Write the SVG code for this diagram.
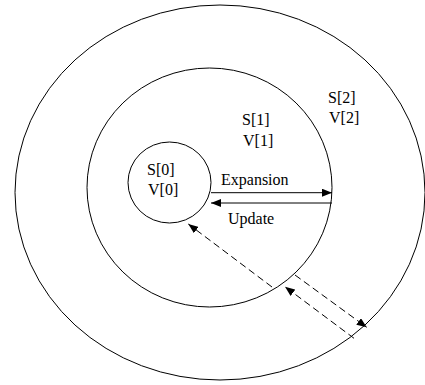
<svg xmlns="http://www.w3.org/2000/svg" width="425" height="385" viewBox="0 0 425 385">
<style>
.ring{fill:none;stroke:#000;stroke-width:1}
.t{font-family:"Liberation Serif","Times New Roman",serif;font-size:16px;fill:#000}
.solid{fill:none;stroke:#000;stroke-width:1}
.dash{fill:none;stroke:#000;stroke-width:1;stroke-dasharray:7 4}
</style>
<defs>
<marker id="ah" viewBox="0 0 10 8" refX="10" refY="4" markerWidth="10" markerHeight="8" markerUnits="userSpaceOnUse" orient="auto">
<path d="M0,0 L10,4 L0,8 Z" fill="#000"/>
</marker>
</defs>
<rect width="425" height="385" fill="#fff"/>
<g id="ring2">
<ellipse class="ring" cx="220" cy="192.5" rx="205" ry="187.5"/>
<text class="t" x="328" y="103">S[2]</text>
<text class="t" x="329" y="123">V[2]</text>
</g>
<g id="ring1">
<ellipse class="ring" cx="209.5" cy="187.5" rx="122.5" ry="119.5"/>
<text class="t" x="242" y="125">S[1]</text>
<text class="t" x="243" y="146">V[1]</text>
</g>
<g id="core">
<ellipse class="ring" cx="169.5" cy="182.5" rx="41.5" ry="40.5"/>
<text class="t" x="147" y="175">S[0]</text>
<text class="t" x="148" y="195">V[0]</text>
</g>
<g id="connectors">
<line class="solid" x1="211" y1="192.7" x2="332" y2="192.7" marker-end="url(#ah)"/>
<line class="solid" x1="332" y1="203" x2="211" y2="203" marker-end="url(#ah)"/>
<text class="t" x="221" y="185">Expansion</text>
<text class="t" x="228" y="224">Update</text>
<line class="dash" x1="272" y1="287" x2="188.3" y2="224" marker-end="url(#ah)"/>
<line class="dash" x1="295" y1="275" x2="366.7" y2="327.3" marker-end="url(#ah)"/>
<line class="dash" x1="354" y1="338.3" x2="285" y2="286.7" marker-end="url(#ah)"/>
</g>
</svg>
